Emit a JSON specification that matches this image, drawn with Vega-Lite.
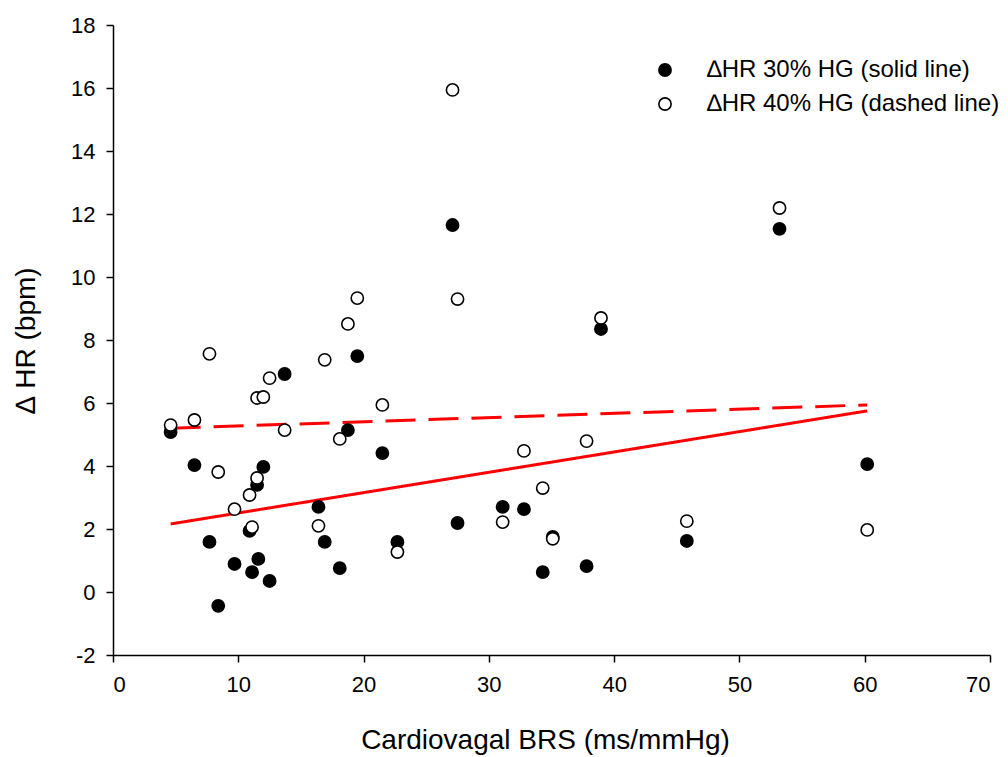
{
  "$schema": "https://vega.github.io/schema/vega-lite/v6.json",
  "width": 877,
  "height": 630,
  "autosize": {"type": "none"},
  "padding": {"left": 113, "top": 25, "right": 18, "bottom": 102},
  "background": "white",
  "config": {
    "view": {"stroke": null},
    "font": "Liberation Sans",
    "axis": {
      "grid": false,
      "domainColor": "black",
      "domainWidth": 1.5,
      "tickColor": "black",
      "tickWidth": 1.5,
      "tickSize": 7,
      "labelColor": "black",
      "labelFont": "Liberation Sans",
      "labelFontSize": 22,
      "titleColor": "black",
      "titleFont": "Liberation Sans",
      "titleFontSize": 28,
      "titleFontWeight": "normal"
    }
  },
  "datasets": {
    "pts": [
      {"brs": 4.6, "hr": 5.08, "group": "∆HR 30% HG (solid line)"},
      {"brs": 6.5, "hr": 4.03, "group": "∆HR 30% HG (solid line)"},
      {"brs": 7.7, "hr": 1.59, "group": "∆HR 30% HG (solid line)"},
      {"brs": 8.4, "hr": -0.44, "group": "∆HR 30% HG (solid line)"},
      {"brs": 9.7, "hr": 0.89, "group": "∆HR 30% HG (solid line)"},
      {"brs": 10.9, "hr": 1.94, "group": "∆HR 30% HG (solid line)"},
      {"brs": 11.1, "hr": 0.63, "group": "∆HR 30% HG (solid line)"},
      {"brs": 11.5, "hr": 3.4, "group": "∆HR 30% HG (solid line)"},
      {"brs": 11.6, "hr": 1.05, "group": "∆HR 30% HG (solid line)"},
      {"brs": 12.0, "hr": 3.97, "group": "∆HR 30% HG (solid line)"},
      {"brs": 12.5, "hr": 0.35, "group": "∆HR 30% HG (solid line)"},
      {"brs": 13.7, "hr": 6.92, "group": "∆HR 30% HG (solid line)"},
      {"brs": 16.4, "hr": 2.7, "group": "∆HR 30% HG (solid line)"},
      {"brs": 16.9, "hr": 1.59, "group": "∆HR 30% HG (solid line)"},
      {"brs": 18.1, "hr": 0.76, "group": "∆HR 30% HG (solid line)"},
      {"brs": 18.75, "hr": 5.14, "group": "∆HR 30% HG (solid line)"},
      {"brs": 19.5, "hr": 7.49, "group": "∆HR 30% HG (solid line)"},
      {"brs": 21.5, "hr": 4.41, "group": "∆HR 30% HG (solid line)"},
      {"brs": 22.7, "hr": 1.59, "group": "∆HR 30% HG (solid line)"},
      {"brs": 27.1, "hr": 11.65, "group": "∆HR 30% HG (solid line)"},
      {"brs": 27.5, "hr": 2.19, "group": "∆HR 30% HG (solid line)"},
      {"brs": 31.1, "hr": 2.7, "group": "∆HR 30% HG (solid line)"},
      {"brs": 32.8, "hr": 2.63, "group": "∆HR 30% HG (solid line)"},
      {"brs": 34.3, "hr": 0.63, "group": "∆HR 30% HG (solid line)"},
      {"brs": 35.1, "hr": 1.75, "group": "∆HR 30% HG (solid line)"},
      {"brs": 37.8, "hr": 0.82, "group": "∆HR 30% HG (solid line)"},
      {"brs": 38.95, "hr": 8.35, "group": "∆HR 30% HG (solid line)"},
      {"brs": 45.8, "hr": 1.62, "group": "∆HR 30% HG (solid line)"},
      {"brs": 53.2, "hr": 11.53, "group": "∆HR 30% HG (solid line)"},
      {"brs": 60.2, "hr": 4.06, "group": "∆HR 30% HG (solid line)"},
      {"brs": 4.6, "hr": 5.3, "group": "∆HR 40% HG (dashed line)"},
      {"brs": 6.5, "hr": 5.46, "group": "∆HR 40% HG (dashed line)"},
      {"brs": 7.7, "hr": 7.56, "group": "∆HR 40% HG (dashed line)"},
      {"brs": 8.4, "hr": 3.81, "group": "∆HR 40% HG (dashed line)"},
      {"brs": 9.7, "hr": 2.63, "group": "∆HR 40% HG (dashed line)"},
      {"brs": 10.9, "hr": 3.08, "group": "∆HR 40% HG (dashed line)"},
      {"brs": 11.1, "hr": 2.06, "group": "∆HR 40% HG (dashed line)"},
      {"brs": 11.5, "hr": 6.16, "group": "∆HR 40% HG (dashed line)"},
      {"brs": 11.5, "hr": 3.62, "group": "∆HR 40% HG (dashed line)"},
      {"brs": 12.0, "hr": 6.19, "group": "∆HR 40% HG (dashed line)"},
      {"brs": 12.5, "hr": 6.79, "group": "∆HR 40% HG (dashed line)"},
      {"brs": 13.7, "hr": 5.14, "group": "∆HR 40% HG (dashed line)"},
      {"brs": 16.4, "hr": 2.1, "group": "∆HR 40% HG (dashed line)"},
      {"brs": 16.9, "hr": 7.37, "group": "∆HR 40% HG (dashed line)"},
      {"brs": 18.1, "hr": 4.86, "group": "∆HR 40% HG (dashed line)"},
      {"brs": 18.75, "hr": 8.51, "group": "∆HR 40% HG (dashed line)"},
      {"brs": 19.5, "hr": 9.33, "group": "∆HR 40% HG (dashed line)"},
      {"brs": 21.5, "hr": 5.94, "group": "∆HR 40% HG (dashed line)"},
      {"brs": 22.7, "hr": 1.27, "group": "∆HR 40% HG (dashed line)"},
      {"brs": 27.1, "hr": 15.94, "group": "∆HR 40% HG (dashed line)"},
      {"brs": 27.5, "hr": 9.3, "group": "∆HR 40% HG (dashed line)"},
      {"brs": 31.1, "hr": 2.22, "group": "∆HR 40% HG (dashed line)"},
      {"brs": 32.8, "hr": 4.48, "group": "∆HR 40% HG (dashed line)"},
      {"brs": 34.3, "hr": 3.3, "group": "∆HR 40% HG (dashed line)"},
      {"brs": 35.1, "hr": 1.69, "group": "∆HR 40% HG (dashed line)"},
      {"brs": 37.8, "hr": 4.79, "group": "∆HR 40% HG (dashed line)"},
      {"brs": 38.95, "hr": 8.7, "group": "∆HR 40% HG (dashed line)"},
      {"brs": 45.8, "hr": 2.25, "group": "∆HR 40% HG (dashed line)"},
      {"brs": 53.2, "hr": 12.19, "group": "∆HR 40% HG (dashed line)"},
      {"brs": 60.2, "hr": 1.97, "group": "∆HR 40% HG (dashed line)"}
    ],
    "fit": [
      {"brs": 4.6, "hr": 2.16, "group": "solid"},
      {"brs": 60.2, "hr": 5.75, "group": "solid"},
      {"brs": 4.6, "hr": 5.2, "group": "dashed"},
      {"brs": 60.2, "hr": 5.94, "group": "dashed"}
    ]
  },
  "layer": [
    {
      "data": {"name": "fit"},
      "mark": {"type": "line", "color": "#ff0000", "strokeWidth": 3},
      "encoding": {
        "x": {
          "field": "brs", "type": "quantitative",
          "scale": {"domain": [0, 70], "nice": false, "zero": false},
          "axis": {"values": [0, 10, 20, 30, 40, 50, 60, 70], "title": "Cardiovagal BRS (ms/mmHg)", "labelPadding": 12, "titlePadding": 31, "titleX": 432, "labelExpr": "datum.value + ''"}
        },
        "y": {
          "field": "hr", "type": "quantitative",
          "scale": {"domain": [-2, 18], "nice": false, "zero": false},
          "axis": {"values": [-2, 0, 2, 4, 6, 8, 10, 12, 14, 16, 18], "title": "∆ HR (bpm)", "labelPadding": 11, "titlePadding": 30, "labelExpr": "datum.value + ''"}
        },
        "detail": {"field": "group", "type": "nominal"},
        "strokeDash": {
          "field": "group", "type": "nominal",
          "scale": {"domain": ["solid", "dashed"], "range": [[1, 0], [30, 13]]},
          "legend": null
        }
      }
    },
    {
      "data": {"name": "pts"},
      "mark": {"type": "point", "shape": "circle", "filled": true, "size": 150, "stroke": "black", "strokeWidth": 1.6, "opacity": 1},
      "encoding": {
        "x": {"field": "brs", "type": "quantitative"},
        "y": {"field": "hr", "type": "quantitative"},
        "fill": {
          "field": "group", "type": "nominal",
          "scale": {"domain": ["∆HR 30% HG (solid line)", "∆HR 40% HG (dashed line)"], "range": ["black", "white"]},
          "legend": {
            "title": null,
            "orient": "none",
            "legendX": 540,
            "legendY": 33,
            "labelFont": "Liberation Sans",
            "labelFontSize": 24,
            "labelColor": "black",
            "labelLimit": 0,
            "labelOffset": 30,
            "rowPadding": 10,
            "symbolType": "circle",
            "symbolSize": 150,
            "symbolStrokeColor": "black",
            "symbolStrokeWidth": 1.6,
            "symbolOpacity": 1
          }
        }
      }
    }
  ]
}
